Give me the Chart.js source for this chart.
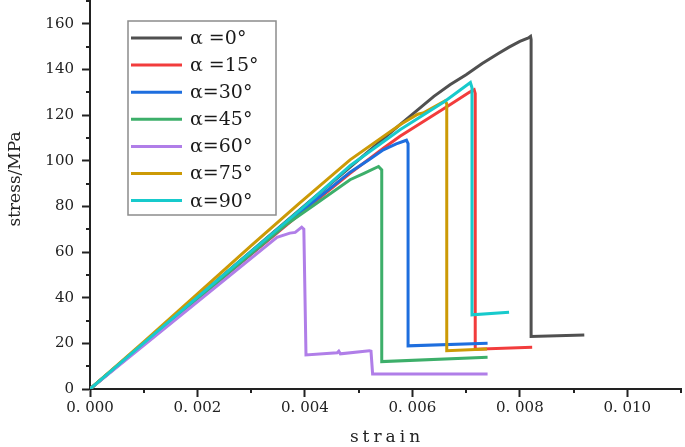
<!DOCTYPE html>
<html>
<head>
<meta charset="utf-8">
<script src="https://cdn.jsdelivr.net/npm/chart.js@4/dist/chart.umd.min.js"></script>
<style>
  html, body { margin: 0; padding: 0; background: #fff; }
  #wrap { width: 685px; height: 447px; }
</style>
</head>
<body>
<div id="wrap"><canvas id="chart" width="685" height="447"></canvas></div>
<script>
// series: strain (-) and stress (MPa)
const strain0 = [0, 0.002, 0.004, 0.00577, 0.0064, 0.0067, 0.007, 0.0073, 0.0076, 0.0078, 0.008, 0.00816, 0.0082, 0.00821, 0.00821, 0.0092]
const stress0 = [0, 40.2, 80.4, 115.8, 128.2, 133.3, 137.7, 142.6, 147.0, 149.8, 152.3, 153.8, 154.5, 153.2, 23.0, 23.7]

const strain15 = [0, 0.002, 0.004, 0.00484, 0.00546, 0.00577, 0.00608, 0.0067, 0.00706, 0.00715, 0.00717, 0.00717, 0.00823]
const stress15 = [0, 39.5, 78.5, 94.5, 105.5, 110.7, 115.3, 124.5, 130.0, 131.1, 129.5, 17.4, 18.3]

const strain30 = [0, 0.002, 0.004, 0.00484, 0.0052, 0.00546, 0.0057, 0.00589, 0.00592, 0.00592, 0.0074]
const stress30 = [0, 39.6, 79.0, 95.0, 100.6, 104.8, 107.4, 109.0, 107.5, 18.9, 20.0]

const strain45 = [0, 0.002, 0.0036, 0.00422, 0.00484, 0.0051, 0.00537, 0.00543, 0.00543, 0.0074]
const stress45 = [0, 39.6, 71.2, 81.4, 91.7, 94.5, 97.5, 96.0, 12.0, 13.9]

const strain60 = [0, 0.002, 0.00348, 0.00372, 0.00382, 0.00394, 0.00398, 0.00402, 0.0046, 0.00463, 0.00466, 0.0052, 0.00523, 0.00526, 0.0074]
const stress60 = [0, 38.2, 66.5, 68.3, 68.6, 70.9, 70.0, 14.9, 15.9, 16.6, 15.4, 16.8, 16.6, 6.6, 6.6]

const strain75 = [0, 0.001, 0.002, 0.003, 0.0039, 0.00484, 0.00577, 0.0061, 0.0062, 0.00661, 0.00664, 0.00664, 0.00739]
const stress75 = [0, 20.7, 41.7, 62.8, 81.4, 100.4, 115.8, 120.4, 120.9, 126.3, 125.0, 16.8, 17.5]

const strain90 = [0, 0.002, 0.004, 0.00484, 0.00577, 0.0066, 0.00708, 0.00711, 0.00711, 0.0078]
const stress90 = [0, 40.3, 80.2, 97.8, 113.6, 126.0, 134.3, 132.0, 32.5, 33.6]

const labels = ['α =0°', 'α =15°', 'α=30°', 'α=45°', 'α=60°', 'α=75°', 'α=90°']
const strains = [strain0, strain15, strain30, strain45, strain60, strain75, strain90]
const stresses = [stress0, stress15, stress30, stress45, stress60, stress75, stress90]
const colors = ['#505050', '#f23c3c', '#1e6ede', '#3daf6a', '#b07ee8', '#cc9a06', '#17cacc']

const axisColor = '#222'
const serif = '"DejaVu Serif", serif'

const datasets = labels.map((label, i) => ({
  label: label,
  data: strains[i].map((x, k) => ({x: x, y: stresses[i][k]})),
  borderColor: colors[i],
  backgroundColor: colors[i],
  borderWidth: 3,
  pointRadius: 0,
  tension: 0,
  order: labels.length - i   // cyan on top, black at the bottom
}))

// minor ticks, axis titles and the boxed legend
const extras = {
  id: 'extras',
  afterDraw(chart) {
    const ctx = chart.ctx
    const xs = chart.scales.x
    const ys = chart.scales.y
    const area = chart.chartArea
    ctx.save()
    ctx.strokeStyle = axisColor
    ctx.lineWidth = 2
    ctx.beginPath()
    for (let v = 0.001; v <= 0.0111; v += 0.002) {
      const px = Math.round(xs.getPixelForValue(v))
      ctx.moveTo(px, area.bottom)
      ctx.lineTo(px, area.bottom + 4)
    }
    for (let v = 10; v <= 170; v += 20) {
      const py = Math.round(ys.getPixelForValue(v))
      ctx.moveTo(area.left, py)
      ctx.lineTo(area.left - 4, py)
    }
    ctx.stroke()

    // axis titles
    ctx.fillStyle = axisColor
    ctx.font = '17px ' + serif
    ctx.textAlign = 'center'
    ctx.textBaseline = 'alphabetic'
    ctx.save()
    ctx.translate(20, 179)
    ctx.rotate(-Math.PI / 2)
    ctx.fillText('stress/MPa', 0, 0)
    ctx.restore()
    ctx.letterSpacing = '4px'
    ctx.fillText('strain', 387, 442)
    ctx.letterSpacing = '0px'

    // legend
    ctx.fillStyle = '#fff'
    ctx.fillRect(128, 21, 148, 194)
    ctx.strokeStyle = '#8c8c8c'
    ctx.lineWidth = 1.5
    ctx.strokeRect(128, 21, 148, 194)
    ctx.font = '19px ' + serif
    ctx.textAlign = 'left'
    ctx.textBaseline = 'middle'
    chart.data.datasets.forEach((ds, i) => {
      const y = 38 + i * 27.1
      ctx.strokeStyle = ds.borderColor
      ctx.lineWidth = 3
      ctx.beginPath()
      ctx.moveTo(131, y)
      ctx.lineTo(182, y)
      ctx.stroke()
      ctx.fillStyle = '#1a1a1a'
      ctx.fillText(ds.label, 190, y + 1)
    })
    ctx.restore()
  }
}

new Chart(document.getElementById('chart'), {
  type: 'line',
  data: {datasets: datasets},
  options: {
    responsive: false,
    animation: false,
    events: [],
    layout: {padding: {top: 1, right: 4, left: 0, bottom: 0}},
    plugins: {
      legend: {display: false},
      tooltip: {enabled: false}
    },
    scales: {
      x: {
        type: 'linear',
        min: 0,
        max: 0.011,
        border: {color: axisColor, width: 2},
        grid: {drawOnChartArea: false, drawTicks: true, tickLength: 8, tickWidth: 2, tickColor: axisColor},
        ticks: {
          stepSize: 0.002,
          includeBounds: false,
          maxRotation: 0,
          color: axisColor,
          font: {family: serif, size: 15},
          padding: 2,
          callback: v => v.toFixed(3).replace('.', '. ')
        },
        afterFit: scale => {
          scale.height = 58
          scale.paddingLeft = 0
          scale.paddingRight = 0
        }
      },
      y: {
        min: 0,
        max: 170,
        border: {color: axisColor, width: 2},
        grid: {drawOnChartArea: false, drawTicks: true, tickLength: 8, tickWidth: 2, tickColor: axisColor},
        ticks: {
          stepSize: 20,
          includeBounds: false,
          color: axisColor,
          font: {family: serif, size: 15},
          padding: 8
        },
        afterFit: scale => {
          scale.width = 90
          scale.paddingTop = 0
          scale.paddingBottom = 0
        }
      }
    }
  },
  plugins: [extras]
})
</script>
</body>
</html>
